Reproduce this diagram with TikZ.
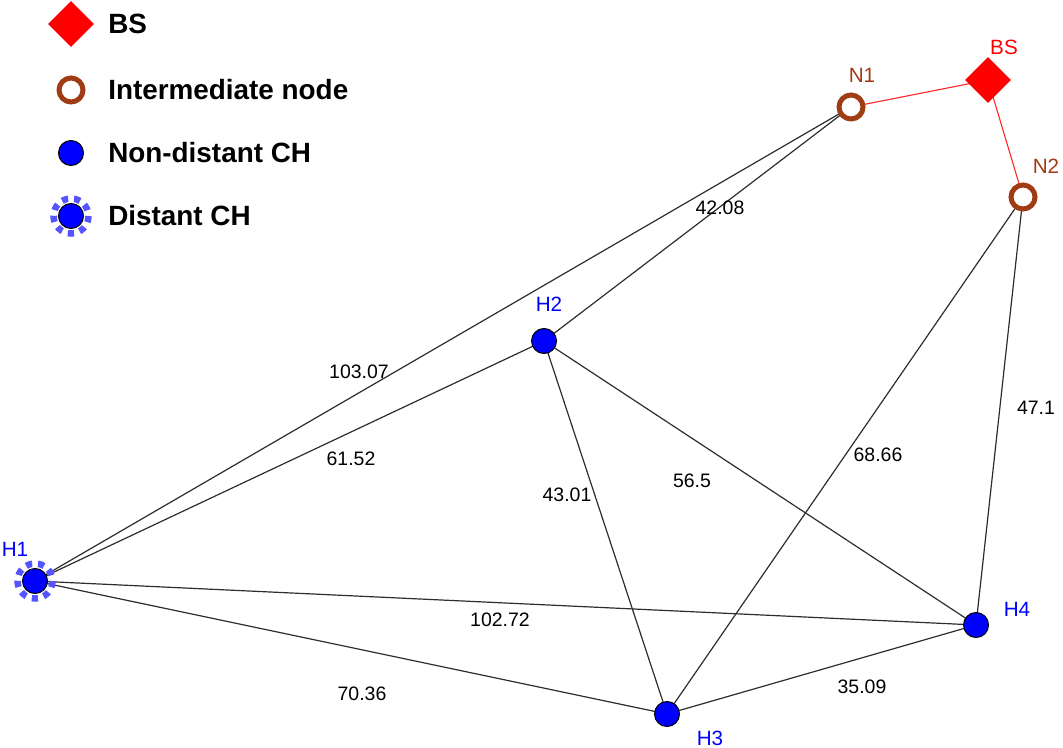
\documentclass[tikz,border=0pt]{standalone}
\usepackage{fontspec}
\setmainfont{Liberation Sans}
\usetikzlibrary{shapes.geometric}
\definecolor{nodebrown}{RGB}{160,60,20}
\definecolor{chblue}{RGB}{0,0,255}
\definecolor{ringblue}{RGB}{85,85,255}
\definecolor{edgegray}{RGB}{45,45,45}
\newlength{\pxu}
\setlength{\pxu}{0.75pt}
\tikzset{
  bsnode/.style={diamond, fill=red, inner sep=0pt, minimum size=46\pxu},
  intnode/.style={circle, draw=nodebrown, line width=5\pxu, fill=white, inner sep=0pt, minimum size=24\pxu},
  chnode/.style={circle, draw=black, line width=1\pxu, fill=chblue, inner sep=0pt, minimum size=25\pxu},
  ring/.style={ringblue, line width=6.5\pxu, dash pattern=on 6.3\pxu off 5.9\pxu},
  legtext/.style={anchor=west, inner sep=0pt, font=\bfseries\fontsize{20.9}{24}\selectfont},
  hlab/.style={text=chblue, font=\fontsize{15.5}{17}\selectfont},
  nlab/.style={text=nodebrown, font=\fontsize{15.5}{17}\selectfont},
  elab/.style={font=\fontsize{14.6}{17}\selectfont},
  edge/.style={edgegray, line width=1.2\pxu},
  redge/.style={red!85, line width=1.1\pxu}
}
\begin{document}
\begin{tikzpicture}[x=0.75pt, y=-0.75pt]
\useasboundingbox (0,0) rectangle (1063,748);
% legend
\node[bsnode] (lbs) at (71,24) {};
\node[legtext] (lbst) at (108,24) {BS};
\node[intnode] (lint) at (71,90) {};
\node[legtext] (lintt) at (108,90) {Intermediate node};
\node[chnode] (lch) at (71,153) {};
\node[legtext] (lcht) at (108,153) {Non-distant CH};
\draw[ring] (71,216) circle (17.5);
\node[chnode] (ldch) at (71,216) {};
\node[legtext] (ldcht) at (108,216) {Distant CH};
% node positions
\coordinate (BSc) at (988,80);
\coordinate (N1c) at (851,107);
\coordinate (N2c) at (1023,197);
\coordinate (H1c) at (35,581);
\coordinate (H2c) at (544,341);
\coordinate (H3c) at (667,714);
\coordinate (H4c) at (976,625);
% edges
\draw[redge] (N1c) -- (BSc);
\draw[redge] (BSc) -- (N2c);
\draw[edge] (H1c) -- (N1c);
\draw[edge] (H1c) -- (H2c);
\draw[edge] (H2c) -- (N1c);
\draw[edge] (H2c) -- (H3c);
\draw[edge] (H2c) -- (H4c);
\draw[edge] (H3c) -- (N2c);
\draw[edge] (N2c) -- (H4c);
\draw[edge] (H1c) -- (H4c);
\draw[edge] (H1c) -- (H3c);
\draw[edge] (H3c) -- (H4c);
% edge labels
\node[elab] (l1) at (359,372) {103.07};
\node[elab] (l2) at (351,459) {61.52};
\node[elab] (l3) at (720,208) {42.08};
\node[elab] (l4) at (567,495) {43.01};
\node[elab] (l5) at (692,481) {56.5};
\node[elab] (l6) at (878,455) {68.66};
\node[elab] (l7) at (1036,408) {47.1};
\node[elab] (l8) at (500,620) {102.72};
\node[elab] (l9) at (362,694) {70.36};
\node[elab] (l10) at (862,687) {35.09};
% node symbols on top
\node[bsnode] (BS) at (BSc) {};
\node[intnode] (N1) at (N1c) {};
\node[intnode] (N2) at (N2c) {};
\draw[ring] (H1c) circle (17.5);
\node[chnode] (H1) at (H1c) {};
\node[chnode] (H2) at (H2c) {};
\node[chnode] (H3) at (H3c) {};
\node[chnode] (H4) at (H4c) {};
% labels
\node[text=red, font=\fontsize{15.5}{17}\selectfont] (BSl) at (1004,47) {BS};
\node[nlab] (N1l) at (862,75) {N1};
\node[nlab] (N2l) at (1046,166) {N2};
\node[hlab] (H1l) at (15,549) {H1};
\node[hlab] (H2l) at (549,304) {H2};
\node[hlab] (H3l) at (710,738) {H3};
\node[hlab] (H4l) at (1017,609) {H4};
\end{tikzpicture}
\end{document}
